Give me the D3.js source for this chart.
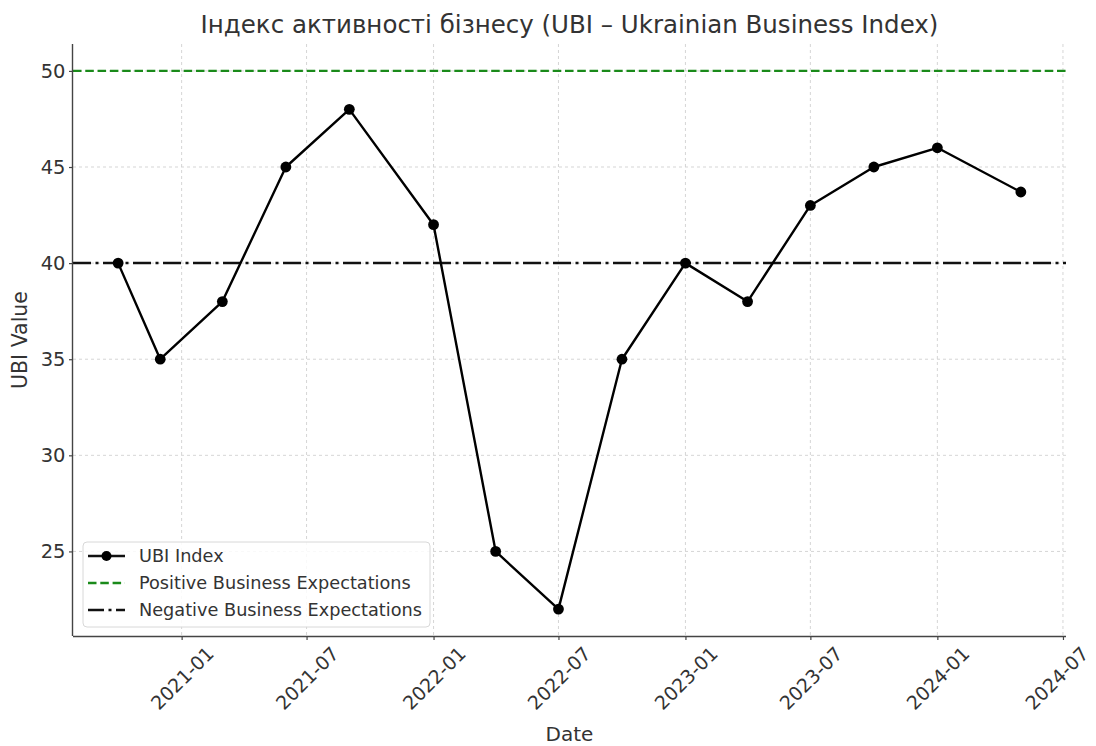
<!DOCTYPE html>
<html>
<head>
<meta charset="utf-8">
<script src="https://cdn.jsdelivr.net/npm/d3@7"></script>
<style>
  body { margin: 0; background: #fff; }
  text { font-family: 'DejaVu Sans', sans-serif; fill: #333; }
</style>
</head>
<body>
<script>
  // monthly readings of the index
  const dates = ['2020-10', '2020-12', '2021-03', '2021-06', '2021-09', '2022-01', '2022-04',
    '2022-07', '2022-10', '2023-01', '2023-04', '2023-07', '2023-10', '2024-01', '2024-05'];
  const values = [40, 35, 38, 45, 48, 42, 25, 22, 35, 40, 38, 43, 45, 46, 43.7];

  const POSITIVE = 50;
  const NEGATIVE = 40;

  const yTicks = [25, 30, 35, 40, 45, 50];
  const xTicks = ['2021-01', '2021-07', '2022-01', '2022-07', '2023-01', '2023-07', '2024-01', '2024-07'];

  const TITLE = 'Індекс активності бізнесу (UBI – Ukrainian Business Index)';
  const legendNames = ['UBI Index', 'Positive Business Expectations', 'Negative Business Expectations'];

  const WIDTH = 1096;
  const HEIGHT = 746;
  const LEFT = 73, RIGHT = 1066, TOP = 44, BOTTOM = 636;

  const parse = d3.timeParse('%Y-%m');
  const data = dates.map((d, i) => ({ date: parse(d), value: values[i] }));

  const svg = d3.select('body').append('svg')
    .attr('width', WIDTH)
    .attr('height', HEIGHT);

  // matplotlib-like 5% margins
  const [t0, t1] = d3.extent(data, d => d.date);
  const pad = (t1 - t0) * 0.05;
  const x = d3.scaleTime()
    .domain([new Date(+t0 - pad), new Date(+t1 + pad)])
    .range([LEFT, RIGHT]);

  const vmin = d3.min(values.concat([POSITIVE, NEGATIVE]));
  const vmax = d3.max(values.concat([POSITIVE, NEGATIVE]));
  const vpad = (vmax - vmin) * 0.05;
  const y = d3.scaleLinear()
    .domain([vmin - vpad, vmax + vpad])
    .range([BOTTOM, TOP]);

  // grid
  const grid = svg.append('g')
    .attr('stroke', '#d0d0d0')
    .attr('stroke-width', 0.9)
    .attr('stroke-dasharray', '3,3');
  grid.selectAll('.gx')
    .data(xTicks.map(parse))
    .enter()
    .append('line')
    .attr('x1', d => x(d)).attr('x2', d => x(d))
    .attr('y1', TOP).attr('y2', BOTTOM);
  grid.selectAll('.gy')
    .data(yTicks)
    .enter()
    .append('line')
    .attr('x1', LEFT).attr('x2', RIGHT)
    .attr('y1', d => y(d)).attr('y2', d => y(d));

  // reference lines
  svg.append('line')
    .attr('x1', LEFT).attr('x2', RIGHT)
    .attr('y1', y(POSITIVE)).attr('y2', y(POSITIVE))
    .attr('stroke', '#1a8a1a')
    .attr('stroke-width', 2.3)
    .attr('stroke-dasharray', '8.5,3.8');

  svg.append('line')
    .attr('x1', LEFT).attr('x2', RIGHT)
    .attr('y1', y(NEGATIVE)).attr('y2', y(NEGATIVE))
    .attr('stroke', '#111')
    .attr('stroke-width', 2.5)
    .attr('stroke-dasharray', '18,4.5,3,4.5');

  // the index line
  const line = d3.line()
    .x(d => x(d.date))
    .y(d => y(d.value));

  svg.append('path')
    .datum(data)
    .attr('fill', 'none')
    .attr('stroke', '#000')
    .attr('stroke-width', 2.4)
    .attr('stroke-linejoin', 'round')
    .attr('d', line);

  svg.append('g')
    .selectAll('circle')
    .data(data)
    .enter()
    .append('circle')
    .attr('cx', d => x(d.date))
    .attr('cy', d => y(d.value))
    .attr('r', 5.4)
    .attr('fill', '#000');

  // axes
  const axisX = d3.axisBottom(x)
    .tickValues(xTicks.map(parse))
    .tickFormat(d3.timeFormat('%Y-%m'))
    .tickSize(4)
    .tickPadding(0);

  const gx = svg.append('g')
    .attr('transform', `translate(0,${BOTTOM})`)
    .call(axisX);
  gx.select('.domain').attr('d', `M${LEFT},0.5H${RIGHT}`).attr('stroke', '#444').attr('stroke-width', 1.4);
  gx.selectAll('.tick line').attr('stroke', '#444').attr('stroke-width', 1.2);
  gx.selectAll('.tick text')
    .attr('font-size', 19)
    .attr('fill', '#333')
    .attr('text-anchor', 'middle')
    .attr('dominant-baseline', 'central')
    .attr('y', null)
    .attr('dy', null)
    .each(function (d) {
      const t = d3.select(this);
      const len = this.getComputedTextLength();
      const h = (len + 14) * Math.SQRT1_2;
      // keep the last label inside the page
      const dx = Math.min(0, WIDTH - 4 - (x(d) + (len + 22) * Math.SQRT1_2 / 2));
      t.attr('transform', `translate(${dx},${9 + h / 2}) rotate(-45)`);
    });

  const axisY = d3.axisLeft(y)
    .tickValues(yTicks)
    .tickSize(4)
    .tickPadding(3.5);

  const gy = svg.append('g')
    .attr('transform', `translate(${LEFT},0)`)
    .call(axisY);
  gy.select('.domain').attr('d', `M-0.5,${TOP}V${BOTTOM}`).attr('stroke', '#444').attr('stroke-width', 1.4);
  gy.selectAll('.tick line').attr('stroke', '#444').attr('stroke-width', 1.2);
  gy.selectAll('.tick text')
    .attr('font-size', 19.5)
    .attr('fill', '#333');

  // titles
  svg.append('text')
    .attr('x', (LEFT + RIGHT) / 2)
    .attr('y', 33)
    .attr('text-anchor', 'middle')
    .attr('font-size', 24.5)
    .text(TITLE);

  svg.append('text')
    .attr('x', (LEFT + RIGHT) / 2)
    .attr('y', 741)
    .attr('text-anchor', 'middle')
    .attr('font-size', 20)
    .text('Date');

  svg.append('text')
    .attr('transform', `translate(27,${(TOP + BOTTOM) / 2}) rotate(-90)`)
    .attr('text-anchor', 'middle')
    .attr('font-size', 20.5)
    .text('UBI Value');

  // legend
  const legend = svg.append('g').attr('transform', 'translate(83,542)');
  legend.append('rect')
    .attr('width', 347)
    .attr('height', 85)
    .attr('rx', 4)
    .attr('fill', 'rgba(255,255,255,0.85)')
    .attr('stroke', '#d8d8d8')
    .attr('stroke-width', 1);

  const rows = legend.selectAll('.row')
    .data(legendNames)
    .enter()
    .append('g')
    .attr('transform', (d, i) => `translate(0,${14 + i * 27})`);

  rows.append('line')
    .attr('x1', 5).attr('x2', 42)
    .attr('stroke', (d, i) => i === 1 ? '#1a8a1a' : '#111')
    .attr('stroke-width', (d, i) => i === 0 ? 2.3 : 2.4)
    .attr('stroke-dasharray', (d, i) => i === 1 ? '8.5,3.8' : i === 2 ? '16,4.5,3,4.5' : null);

  rows.filter((d, i) => i === 0)
    .append('circle')
    .attr('cx', 23.5)
    .attr('r', 5)
    .attr('fill', '#000');

  rows.append('text')
    .attr('x', 56)
    .attr('dy', '0.35em')
    .attr('font-size', 17.7)
    .text(d => d);
</script>
</body>
</html>
